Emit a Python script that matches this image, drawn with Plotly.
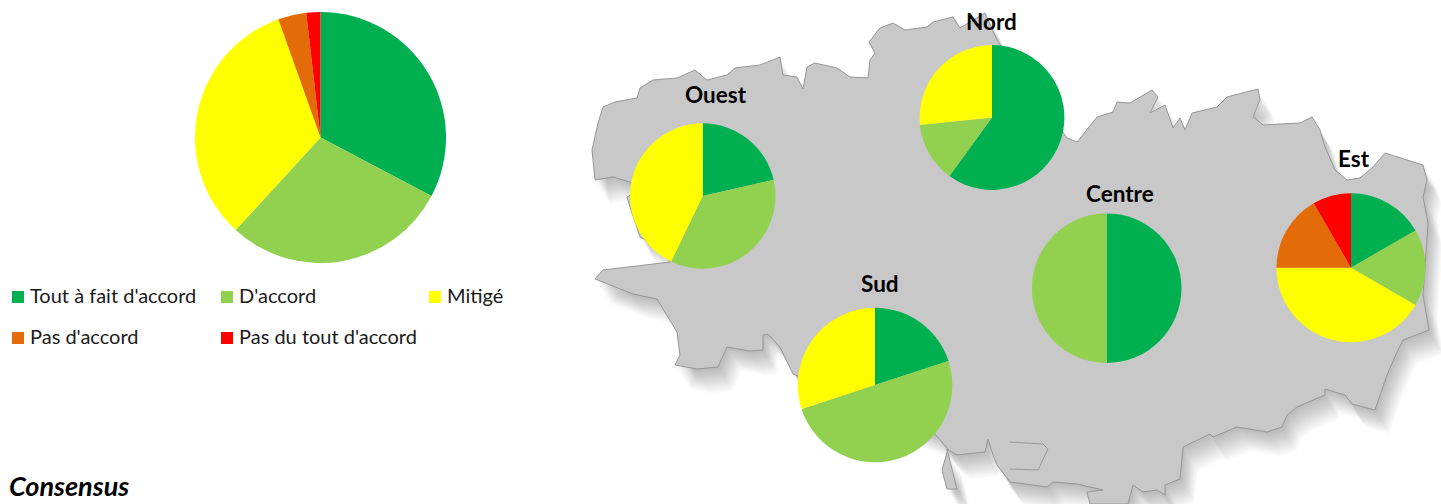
import plotly.graph_objects as go

W, H = 1441, 504

categories = ["Tout à fait d'accord", "D'accord", "Mitigé", "Pas d'accord", "Pas du tout d'accord"]
colors = ["#00B050", "#92D050", "#FFFF00", "#E36C09", "#FF0000"]

consensus = [18, 16, 18, 2, 1]
ouest = [3, 5, 6, 0, 0]
nord = [9, 2, 4, 0, 0]
centre = [1, 1, 0, 0, 0]
sud = [2, 5, 3, 0, 0]
est = [2, 2, 5, 2, 1]

# name, values, (cx, cy, r) in pixels, title position
pies = [
    ("Consensus", consensus, (320.5, 137.5, 125.5), None),
    ("Ouest", ouest, (702.7, 196, 72.7), (716, 94)),
    ("Nord", nord, (992, 117.5, 72.4), (992, 22)),
    ("Centre", centre, (1106.7, 288.2, 74.8), (1120, 193)),
    ("Sud", sud, (875, 385, 77.3), (880, 283)),
    ("Est", est, (1351, 267.7, 74.5), (1354, 158)),
]

# Map decoration (pixel outline of the background silhouette)
map_outline = [
    (595,180),(592,150),(598,123),(603,107),(615,102),(637,98),(640,88),(653,80),(677,78),(695,70),
    (707,80),(727,75),(735,68),(760,65),(780,57),(783,75),(797,77),(803,89),(807,67),(815,63),
    (837,68),(850,77),(868,78),(870,60),(875,53),(869,42),(880,28),(893,23),(905,30),(927,27),
    (933,22),(953,17),(960,28),(985,13),(997,40),(1040,100),(1067,138),(1077,142),(1097,117),(1113,112),
    (1117,102),(1130,103),(1152,90),(1158,97),(1150,113),(1165,105),(1173,128),(1180,118),(1185,130),(1192,113),
    (1217,107),(1227,97),(1258,89),(1260,100),(1253,117),(1263,125),(1300,123),(1312,117),(1320,130),(1325,147),
    (1335,170),(1347,180),(1360,178),(1373,167),(1385,153),(1423,165),(1427,180),(1423,197),(1428,223),(1423,295),
    (1429,330),(1403,340),(1397,352),(1387,375),(1375,410),(1352,404),(1345,395),(1325,389),(1325,395),(1297,407),
    (1287,415),(1282,427),(1267,432),(1237,427),(1213,437),(1210,434),(1183,447),(1180,479),(1165,485),(1165,495),
    (1157,490),(1143,492),(1133,485),(1128,504),(1090,504),(1087,492),(1103,490),(1077,484),(1053,482),(1047,487),
    (1010,482),(997,465),(993,455),(988,439),(985,452),(957,455),(947,449),(957,489),(947,489),(942,470),
    (948,449),(935,434),(900,420),(793,374),(780,347),(768,334),(763,335),(763,350),(750,351),(727,347),
    (718,367),(697,369),(675,365),(680,355),(677,332),(657,299),(633,294),(595,279),(603,270),(670,262),
    (664,250),(640,237),(630,207),(627,197),(640,190),(630,182),(613,177),
]
gulf_outline = [(1010,442),(1043,444),(1048,449),(1038,470),(1010,469)]

legend_rows = [(0, 0), (0, 1), (0, 2), (1, 0), (1, 1)]
legend_x = [12, 221, 429]
legend_y = [291, 332]


def px(x):
    return x / W


def py(y):
    return 1 - y / H


def path(points, dx=0, dy=0, close=True):
    s = "M" + " L".join(f"{px(x + dx):.5f},{py(y + dy):.5f}" for x, y in points)
    return s + (" Z" if close else "")


shapes = []
for off in range(24, 0, -2):
    shapes.append(dict(type="path", path=path(map_outline, off * 0.6, off), xref="paper", yref="paper",
                       fillcolor="#000000", opacity=0.024, line=dict(width=0), layer="below"))
shapes.append(dict(type="path", path=path(map_outline), xref="paper", yref="paper",
                   fillcolor="#C8C8C8", line=dict(color="#969696", width=1), layer="below"))
shapes.append(dict(type="path", path=path(gulf_outline, close=False), xref="paper", yref="paper",
                   line=dict(color="#969696", width=1), layer="below"))

annotations = []
for (row, col), name, color in zip(legend_rows, categories, colors):
    x0, y0 = legend_x[col], legend_y[row]
    shapes.append(dict(type="rect", xref="paper", yref="paper", x0=px(x0), x1=px(x0 + 12),
                       y0=py(y0), y1=py(y0 + 12), fillcolor=color, line=dict(width=0)))
    annotations.append(dict(text=name, xref="paper", yref="paper", x=px(x0 + 15.5), y=py(y0 + 4),
                            xanchor="left", yanchor="middle", showarrow=False,
                            font=dict(family="Lato", size=20, color="#1a1a1a")))

fig = go.Figure()
for name, values, (cx, cy, r), title_pos in pies:
    fig.add_trace(go.Pie(
        labels=categories, values=values, name=name, sort=False, direction="clockwise", rotation=0,
        marker=dict(colors=colors, line=dict(width=0)), textinfo="none", showlegend=False,
        domain=dict(x=[px(cx - r), px(cx + r)], y=[py(cy + r), py(cy - r)]),
    ))
    if title_pos:
        annotations.append(dict(text=f"<b>{name}</b>", xref="paper", yref="paper", x=px(title_pos[0]),
                                y=py(title_pos[1]), xanchor="center", yanchor="middle", showarrow=False,
                                font=dict(family="Lato", size=22.5, color="#000000")))

annotations.append(dict(text="<b><i>Consensus</i></b>", xref="paper", yref="paper", x=px(7), y=py(503.5),
                        xanchor="left", yanchor="bottom", showarrow=False,
                        font=dict(family="Lato", size=27, color="#000000")))

fig.update_layout(width=W, height=H, margin=dict(l=0, r=0, t=0, b=0), paper_bgcolor="white",
                  plot_bgcolor="white", shapes=shapes, annotations=annotations, showlegend=False)
fig.write_html("out.html", config=dict(displayModeBar=False),
               post_script="document.body.style.margin='0';document.documentElement.style.overflow='hidden';")
